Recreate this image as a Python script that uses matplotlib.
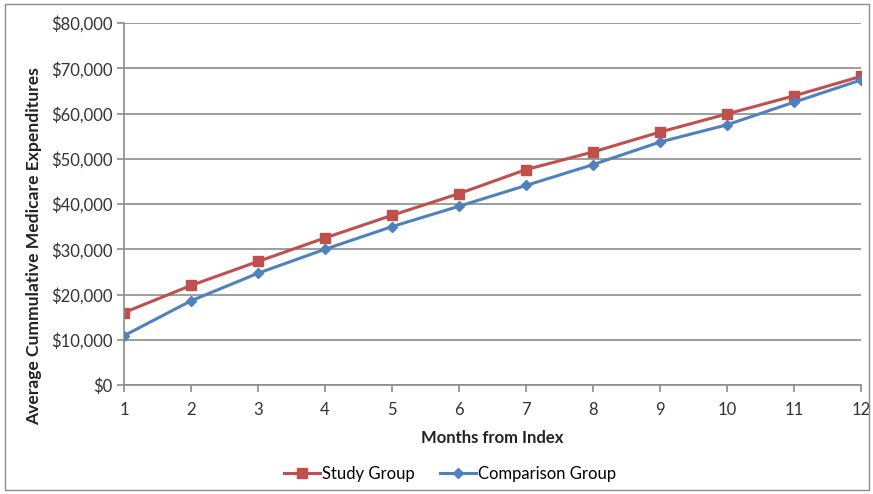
import matplotlib.pyplot as plt
from matplotlib.ticker import FuncFormatter
from matplotlib.patches import Rectangle

months = [1, 2, 3, 4, 5, 6, 7, 8, 9, 10, 11, 12]
study = [16000, 22000, 27300, 32500, 37500, 42300, 47600, 51500, 55900, 59900, 63900, 68200]
comparison = [10900, 18600, 24700, 30000, 35000, 39500, 44100, 48700, 53700, 57500, 62500, 67400]

plt.rcParams['font.family'] = ['Lato', 'DejaVu Sans']

fig = plt.figure(figsize=(8.73, 4.94), dpi=100)
ax = fig.add_axes([124/873, 1 - 385/494, (861-124)/873, (385-23)/494])

# outer chart border like the spreadsheet frame
fig.patches.append(Rectangle((5/873, 4/494), 864/873, 486/494, transform=fig.transFigure,
                             fill=False, edgecolor='#8c8c8c', linewidth=1.0))

ax.plot(months, study, color='#C0504D', marker='s', markersize=7, linewidth=2.2, label='Study Group')
ax.plot(months, comparison, color='#4F81BD', marker='D', markersize=5.5, linewidth=2.2, label='Comparison Group')

ax.set_xlim(1, 12)
ax.set_ylim(0, 80000)
ax.set_xticks(months)
ax.set_yticks(range(0, 80001, 10000))
ax.yaxis.set_major_formatter(FuncFormatter(lambda v, p: f"${v:,.0f}"))
ax.grid(axis='y', color='#8c8c8c', linewidth=1.2)
ax.set_axisbelow(True)

for s in ['top', 'right']:
    ax.spines[s].set_visible(False)
for s in ['left', 'bottom']:
    ax.spines[s].set_color('#8c8c8c')
    ax.spines[s].set_linewidth(1.2)

ax.tick_params(axis='both', colors='#8c8c8c', labelcolor='#333333', labelsize=12, length=5, width=1.2)
ax.tick_params(axis='x', pad=7)

ax.set_xlabel('Months from Index', fontsize=12, fontweight='bold', color='#222222', labelpad=9)
ax.set_ylabel('Average Cummulative Medicare Expenditures', fontsize=12.6, fontweight='bold', color='#222222')
ax.yaxis.set_label_coords(-0.111, 0.384)

fig.legend(loc='center', bbox_to_anchor=(450/873, 1 - 474/494), ncol=2, frameon=False,
           fontsize=12, handlelength=2.2, columnspacing=1.5, handletextpad=0.1)

fig.savefig('out.png', dpi=100)
